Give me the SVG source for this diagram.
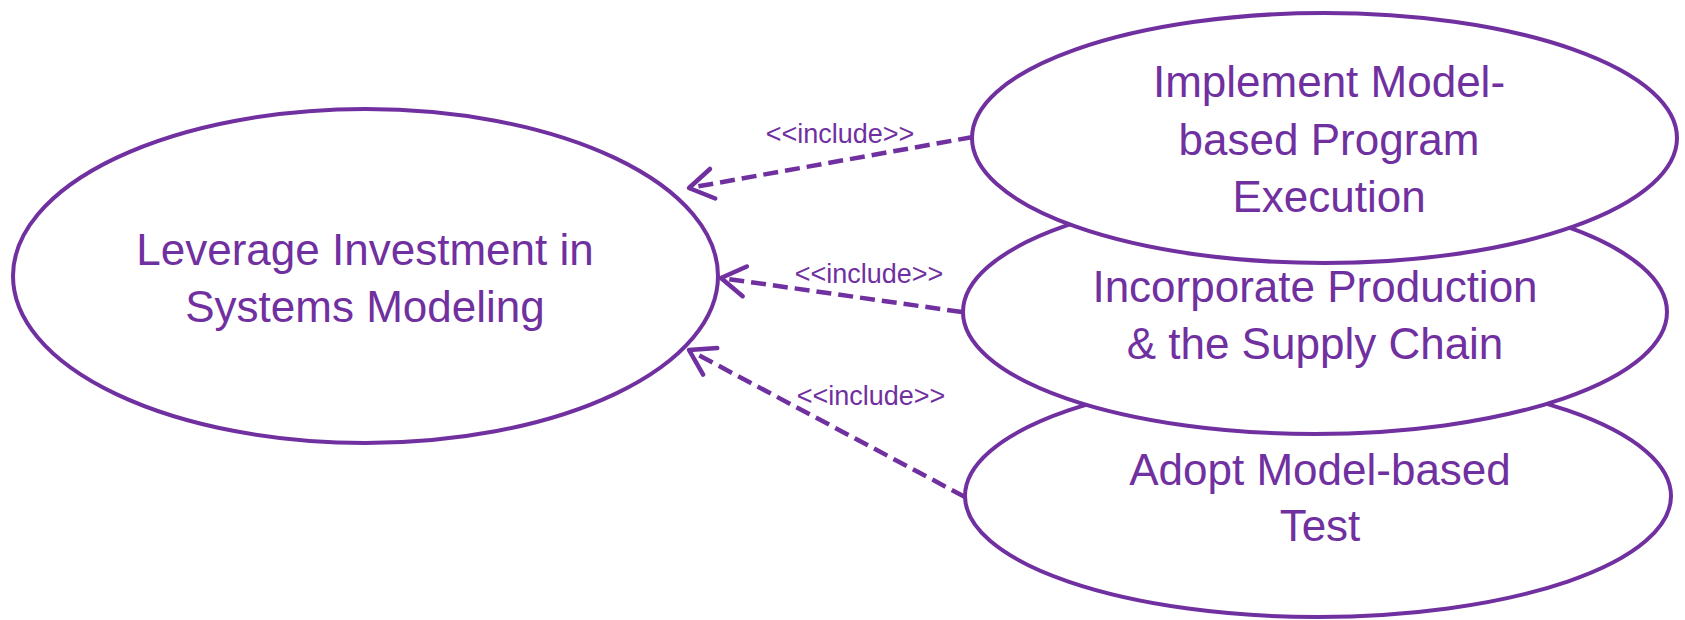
<svg xmlns="http://www.w3.org/2000/svg" width="1685" height="620" viewBox="0 0 1685 620">
<style>
.uc{fill:#ffffff;stroke:#7030A0;stroke-width:4}
.t{font-family:"Liberation Sans",Arial,sans-serif;font-size:44px;fill:#7030A0;text-anchor:middle}
.lb{font-family:"Liberation Sans",Arial,sans-serif;font-size:27px;fill:#7030A0;text-anchor:middle}
.dep{fill:none;stroke:#7030A0;stroke-width:4.5;stroke-dasharray:15 7}
</style>
<defs>
<marker id="open" markerUnits="userSpaceOnUse" markerWidth="40" markerHeight="40" viewBox="-30 -20 40 40" refX="0" refY="0" orient="auto">
<path d="M -24 -15 L 0 0 L -24 15" fill="none" stroke="#7030A0" stroke-width="4.5" stroke-linecap="round" stroke-linejoin="round"/>
</marker>
</defs>
<g id="leverage">
<ellipse class="uc" cx="365.5" cy="276" rx="352.5" ry="167"/>
<text class="t" x="365" y="265">Leverage Investment in</text>
<text class="t" x="365" y="322">Systems Modeling</text>
</g>
<g id="adopt">
<ellipse class="uc" cx="1318" cy="496" rx="353" ry="121"/>
<text class="t" x="1320" y="485">Adopt Model-based</text>
<text class="t" x="1320" y="541">Test</text>
</g>
<g id="incorporate">
<ellipse class="uc" cx="1315" cy="312" rx="352" ry="122"/>
<text class="t" x="1315" y="302">Incorporate Production</text>
<text class="t" x="1315" y="359">&amp; the Supply Chain</text>
</g>
<g id="implement">
<ellipse class="uc" cx="1324.5" cy="138" rx="352.5" ry="125"/>
<text class="t" x="1329" y="97">Implement Model-</text>
<text class="t" x="1329" y="155">based Program</text>
<text class="t" x="1329" y="212">Execution</text>
</g>
<g id="connectors">
<line class="dep" x1="973" y1="137" x2="689" y2="188" marker-end="url(#open)"/>
<line class="dep" x1="962" y1="312" x2="721" y2="278" marker-end="url(#open)"/>
<line class="dep" x1="965" y1="497" x2="689" y2="350" marker-end="url(#open)"/>
<text class="lb" x="840" y="143">&lt;&lt;include&gt;&gt;</text>
<text class="lb" x="869" y="283">&lt;&lt;include&gt;&gt;</text>
<text class="lb" x="871" y="405">&lt;&lt;include&gt;&gt;</text>
</g>
</svg>
